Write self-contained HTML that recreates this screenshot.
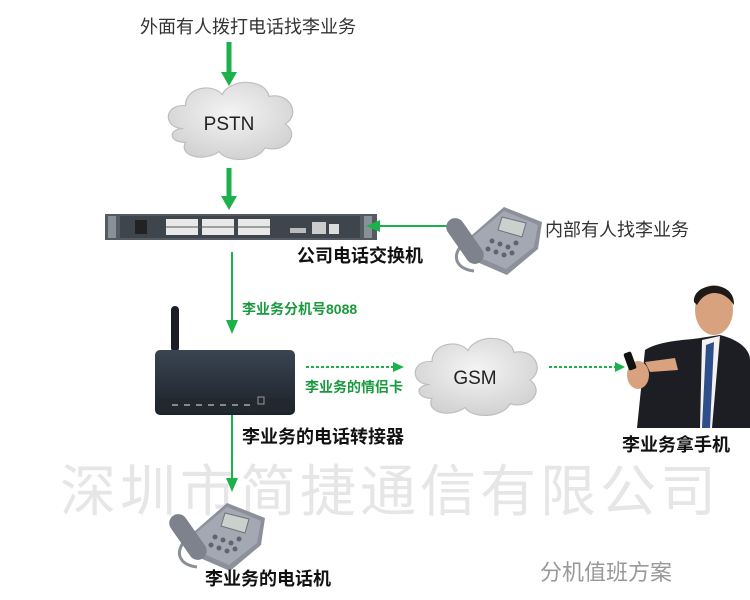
<!DOCTYPE html>
<html><head><meta charset="utf-8"><style>
html,body{margin:0;padding:0;background:#fff}
svg{display:block}
text{font-family:"Liberation Sans","Noto Sans CJK SC",sans-serif}
</style></head><body>
<svg width="750" height="600" viewBox="0 0 750 600" xmlns="http://www.w3.org/2000/svg">
<defs>
<radialGradient id="cg" cx="50%" cy="40%" r="60%"><stop offset="0" stop-color="#f4f4f4"/><stop offset="1" stop-color="#d2d2d2"/></radialGradient>
<linearGradient id="bx" x1="0" y1="0" x2="0" y2="1"><stop offset="0" stop-color="#3a4452"/><stop offset="1" stop-color="#1c222b"/></linearGradient>
<g id="cloud">
<path d="M20,55 C0,55 0,28 22,30 C22,10 48,5 58,18 C66,0 100,0 104,20 C125,15 135,40 120,50 C135,62 120,82 100,76 C92,92 62,92 55,80 C40,92 15,85 22,70 C5,70 5,55 20,55 Z" fill="url(#cg)" stroke="#bdbdbd" stroke-width="1.2"/>
</g>
<g id="phone">
<path d="M8,50 C0,62 6,72 22,74" fill="none" stroke="#8a8f99" stroke-width="3"/>
<polygon points="12,45 52,10 90,25 86,52 55,78 18,62" fill="#8b909b"/>
<polygon points="16,44 52,14 86,28 82,50 54,72 22,58" fill="#a3a8b2"/>
<rect x="4" y="18" width="18" height="52" rx="9" transform="rotate(-35 13 44)" fill="#7d828c"/>
<polygon points="50,20 74,26 70,40 46,33" fill="#c9d1cc" stroke="#6d727b"/>
<g fill="#5f6570"><circle cx="40" cy="44" r="2.5"/><circle cx="48" cy="47" r="2.5"/><circle cx="56" cy="50" r="2.5"/><circle cx="36" cy="52" r="2.5"/><circle cx="44" cy="55" r="2.5"/><circle cx="52" cy="58" r="2.5"/><circle cx="64" cy="46" r="2.5"/><circle cx="60" cy="56" r="2.5"/></g>
</g>
</defs>

<text x="140" y="33" font-size="18" fill="#333">外面有人拨打电话找李业务</text>
<line x1="229" y1="42" x2="229" y2="74" stroke="#1db14b" stroke-width="5"/>
<polygon points="221,72 237,72 229,86" fill="#1db14b"/>
<use href="#cloud" transform="translate(163,78) scale(1.02,0.92)"/>
<text x="229" y="130" font-size="19" text-anchor="middle" fill="#222">PSTN</text>
<line x1="229" y1="168" x2="229" y2="198" stroke="#1db14b" stroke-width="5"/>
<polygon points="221,196 237,196 229,210" fill="#1db14b"/>

<rect x="105" y="214" width="272" height="26" fill="#555b62"/>
<rect x="120" y="216" width="240" height="22" fill="#3f454c"/>
<rect x="108" y="216" width="8" height="22" fill="#8a9097"/><rect x="364" y="216" width="8" height="22" fill="#8a9097"/>
<rect x="135" y="220" width="12" height="14" fill="#222"/>
<g fill="#e8e8e8">
<rect x="166" y="219" width="32" height="16"/><rect x="202" y="219" width="32" height="16"/><rect x="238" y="219" width="32" height="16"/>
</g>
<g stroke="#555" stroke-width="1"><line x1="166" y1="227" x2="270" y2="227"/></g>
<rect x="290" y="228" width="16" height="5" fill="#bbb"/><rect x="312" y="222" width="14" height="12" fill="#ccc"/><rect x="329" y="224" width="10" height="10" fill="#ddd"/>

<line x1="462" y1="226" x2="378" y2="226" stroke="#1db14b" stroke-width="2"/>
<polygon points="366,226 380,220 380,232" fill="#1db14b"/>
<use href="#phone" transform="translate(452,197)"/>
<text x="545" y="236" font-size="18" fill="#333">内部有人找李业务</text>
<text x="297" y="262" font-size="18" font-weight="bold" fill="#111">公司电话交换机</text>

<line x1="232" y1="252" x2="232" y2="322" stroke="#1db14b" stroke-width="2"/>
<polygon points="226,320 238,320 232,334" fill="#1db14b"/>
<text x="242" y="314" font-size="14" font-weight="bold" fill="#1a9a3e">李业务分机号8088</text>

<rect x="171" y="306" width="8" height="46" rx="4" fill="#1b1f25"/>
<rect x="155" y="350" width="140" height="65" rx="5" fill="url(#bx)"/>
<rect x="158" y="398" width="134" height="15" fill="#222830"/>
<g fill="#888"><rect x="172" y="404" width="6" height="2"/><rect x="184" y="404" width="6" height="2"/><rect x="196" y="404" width="6" height="2"/><rect x="208" y="404" width="6" height="2"/><rect x="220" y="404" width="6" height="2"/><rect x="232" y="404" width="6" height="2"/><rect x="244" y="404" width="6" height="2"/></g>
<rect x="258" y="397" width="6" height="7" fill="none" stroke="#999"/>

<line x1="306" y1="367" x2="394" y2="367" stroke="#1db14b" stroke-width="2" stroke-dasharray="3,2"/>
<polygon points="404,367 393,362 393,372" fill="#1db14b"/>
<text x="305" y="392" font-size="14" font-weight="bold" fill="#1a9a3e">李业务的情侣卡</text>

<use href="#cloud" transform="translate(410,334) scale(1.0,0.92)"/>
<text x="475" y="384" font-size="19" text-anchor="middle" fill="#222">GSM</text>
<line x1="549" y1="367" x2="616" y2="367" stroke="#1db14b" stroke-width="2" stroke-dasharray="3,2"/>
<polygon points="625,367 615,362 615,372" fill="#1db14b"/>

<path d="M637,428 L645,350 C660,340 690,340 700,338 L720,335 C740,340 750,350 750,360 L750,428 Z" fill="#1c1e24"/>
<polygon points="702,340 720,336 712,428 700,428" fill="#f2f2f2"/>
<polygon points="706,345 714,342 710,428 702,428" fill="#2f4f8a"/>
<ellipse cx="714" cy="310" rx="19" ry="25" fill="#d9a27f"/>
<path d="M694,302 C692,282 735,278 734,305 L730,300 C720,290 705,290 697,305 Z" fill="#1d1a18"/>
<ellipse cx="638" cy="375" rx="11" ry="14" fill="#d9a27f"/>
<rect x="626" y="352" width="8" height="18" rx="2" fill="#111" transform="rotate(-20 630 361)"/>
<path d="M645,362 L675,358 L678,370 L650,372 Z" fill="#d9a27f"/>
<text x="622" y="451" font-size="18" font-weight="bold" fill="#111">李业务拿手机</text>

<text x="242" y="443" font-size="18" font-weight="bold" fill="#111">李业务的电话转接器</text>

<text x="390" y="511" font-size="56" text-anchor="middle" fill="#e6e6e6" letter-spacing="4">深圳市简捷通信有限公司</text>

<line x1="232" y1="415" x2="232" y2="480" stroke="#1db14b" stroke-width="2"/>
<polygon points="226,478 238,478 232,492" fill="#1db14b"/>
<use href="#phone" transform="translate(175,493)"/>
<text x="205" y="585" font-size="18" font-weight="bold" fill="#111">李业务的电话机</text>
<text x="540" y="580" font-size="22" fill="#999">分机值班方案</text>
</svg>
</body></html>
